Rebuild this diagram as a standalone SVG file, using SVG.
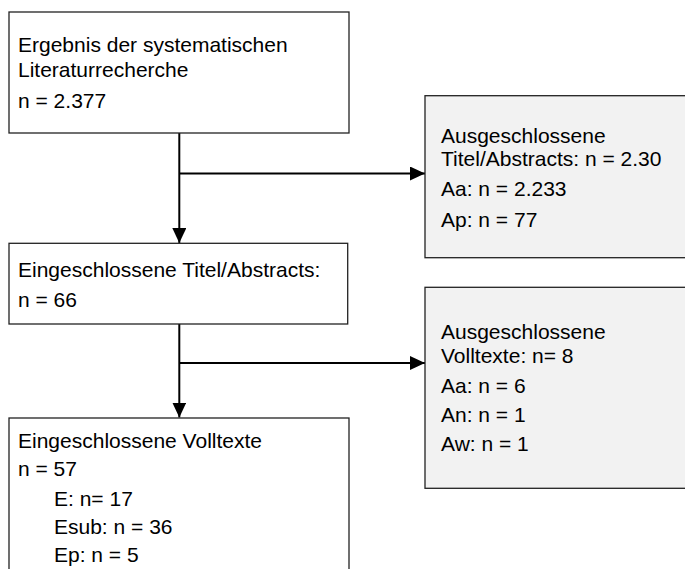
<svg xmlns="http://www.w3.org/2000/svg" width="685" height="569" viewBox="0 0 685 569">
<defs>
<style>
text{font-family:"Liberation Sans",Arial,sans-serif;font-size:21px;fill:#000}
.box{fill:#fff;stroke:#222;stroke-width:1.3}
.gbox{fill:#f2f2f2;stroke:#222;stroke-width:1.3}
.con{fill:none;stroke:#000;stroke-width:2}
</style>
<marker id="ah" markerWidth="16" markerHeight="14" refX="15" refY="7" orient="auto" markerUnits="userSpaceOnUse">
<path d="M0,0 L15,7 L0,14 Z" fill="#000"/>
</marker>
</defs>
<rect width="685" height="569" fill="#fff"/>
<g id="connectors">
<path class="con" d="M179.3,133 V243" marker-end="url(#ah)"/>
<path class="con" d="M179.3,173.5 H425" marker-end="url(#ah)"/>
<path class="con" d="M179.3,324 V417.5" marker-end="url(#ah)"/>
<path class="con" d="M179.3,363 H425" marker-end="url(#ah)"/>
</g>
<g id="node1">
<rect class="box" x="9" y="12" width="340" height="121"/>
<text x="18" y="52">Ergebnis der systematischen</text>
<text x="18" y="77.3">Literaturrecherche</text>
<text x="18" y="107.7">n = 2.377</text>
</g>
<g id="node2">
<rect class="box" x="9" y="243.3" width="338.7" height="80.7"/>
<text x="18" y="276.7">Eingeschlossene Titel/Abstracts:</text>
<text x="18" y="306.7">n = 66</text>
</g>
<g id="node3">
<rect class="box" x="9" y="418" width="340" height="160"/>
<text x="18" y="448.3">Eingeschlossene Volltexte</text>
<text x="18" y="476">n = 57</text>
<text x="54" y="506">E: n= 17</text>
<text x="54" y="534">Esub: n = 36</text>
<text x="54" y="562">Ep: n = 5</text>
</g>
<g id="node4">
<rect class="gbox" x="425" y="95.7" width="280" height="162"/>
<text x="441" y="143.3">Ausgeschlossene</text>
<text x="441" y="165.7">Titel/Abstracts: n = 2.30</text>
<text x="441" y="196">Aa: n = 2.233</text>
<text x="441" y="226.7">Ap: n = 77</text>
</g>
<g id="node5">
<rect class="gbox" x="425" y="287.3" width="280" height="201"/>
<text x="441" y="339.3">Ausgeschlossene</text>
<text x="441" y="363.3">Volltexte: n= 8</text>
<text x="441" y="393.3">Aa: n = 6</text>
<text x="441" y="421.7">An: n = 1</text>
<text x="441" y="451">Aw: n = 1</text>
</g>
</svg>
